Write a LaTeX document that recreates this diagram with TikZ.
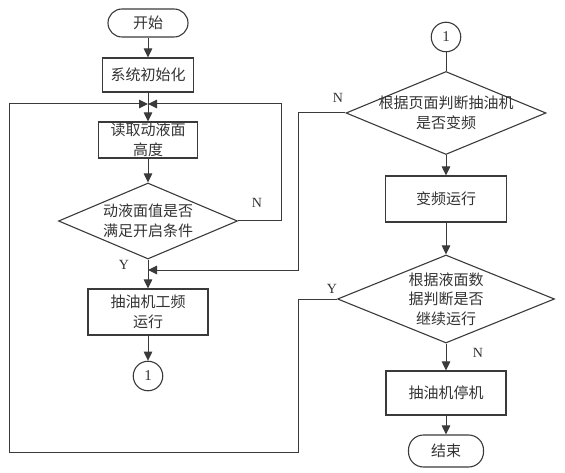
\documentclass[tikz,border=0pt]{standalone}
\usepackage{fontspec}
\setmainfont{Liberation Serif}
\newfontfamily\cjk{Noto Sans CJK SC}
\usetikzlibrary{arrows.meta,shapes.geometric}
\definecolor{ln}{HTML}{3A3A3A}
\definecolor{tx}{HTML}{333333}
\tikzset{
  conn/.style={draw=ln, line width=1pt},
  arr/.style={conn, -{Triangle[length=9pt,width=8.5pt]}},
  boxnode/.style={rectangle, draw=ln, line width=1.1pt, inner sep=0pt, align=center,
     text=tx, font=\cjk\fontsize{15}{19.5}\selectfont},
  termnode/.style={boxnode, rounded corners=14pt},
  dianode/.style={diamond, draw=ln, line width=1.1pt, inner sep=0pt},
  diatext/.style={align=center, text=tx, font=\cjk\fontsize{15}{19.5}\selectfont, inner sep=0pt},
  connnode/.style={circle, draw=ln, line width=1.1pt, inner sep=0pt, minimum size=29.5pt,
     text=tx, font=\fontsize{15}{18}\selectfont},
  yn/.style={text=tx, font=\fontsize{14}{16}\selectfont, inner sep=0pt}
}
\begin{document}
\begin{tikzpicture}[x=1pt,y=-1pt]
\useasboundingbox (0,0) rectangle (565,473);
% left column
\node[termnode, minimum width=80pt, minimum height=28pt] (start) at (148,23) {开始};
\node[boxnode, minimum width=91pt, minimum height=34pt] (init) at (148,75) {系统初始化};
\node[boxnode, minimum width=99pt, minimum height=36pt] (read) at (148,140) {读取动液面\\高度};
\node[dianode, minimum width=179pt, minimum height=76pt] (dA) at (148,221) {};
\node[diatext] (tA) at (dA.center) {动液面值是否\\满足开启条件};
\node[boxnode, minimum width=120pt, minimum height=46pt] (gp) at (148,312) {抽油机工频\\运行};
\node[connnode] (c1) at (148,376) {1};
% right column
\node[connnode] (c2) at (446,37) {1};
\node[dianode, minimum width=200pt, minimum height=83pt] (dB) at (446,113) {};
\node[diatext] (tB) at (dB.center) {根据页面判断抽油机\\是否变频};
\node[boxnode, minimum width=121pt, minimum height=46pt] (vf) at (446,199) {变频运行};
\node[dianode, minimum width=217pt, minimum height=88pt] (dC) at (446,299) {};
\node[diatext] (tC) at (dC.center) {根据液面数\\据判断是否\\继续运行};
\node[boxnode, minimum width=120pt, minimum height=44pt] (stop) at (446,393) {抽油机停机};
\node[termnode, minimum width=75pt, minimum height=32pt, rounded corners=15pt] (end) at (446,451) {结束};
% coordinates
\coordinate (m1) at (148,104);
\coordinate (m2) at (148,270);
\coordinate (aN) at (281,104);
\coordinate (bN) at (298,270);
\coordinate (cY) at (298,299);
\coordinate (rb) at (298,452);
\coordinate (lb) at (9,452);
\coordinate (lt) at (9,104);
% connectors
\draw[arr] (start) -- (init);
\draw[arr] (init) -- (read);
\draw[arr] (read) -- (dA);
\draw[arr] (dA) -- (gp);
\draw[arr] (gp) -- (c1);
\draw[arr] (dA.east) -| (aN) -- (m1);
\draw[arr] (dC.west) -- (cY) -- (rb) -- (lb) -- (lt) -- (m1);
\draw[conn] (c2) -- (dB);
\draw[arr] (dB) -- (vf);
\draw[arr] (vf) -- (dC);
\draw[arr] (dC) -- (stop);
\draw[arr] (stop) -- (end);
\draw[arr] (dB.west) -| (bN) -- (m2);
% labels
\node[yn] (lN1) at (257,203) {N};
\node[yn] (lY1) at (124,265) {Y};
\node[yn] (lN2) at (338,98) {N};
\node[yn] (lY2) at (332,289) {Y};
\node[yn] (lN3) at (478,353) {N};
\end{tikzpicture}
\end{document}
